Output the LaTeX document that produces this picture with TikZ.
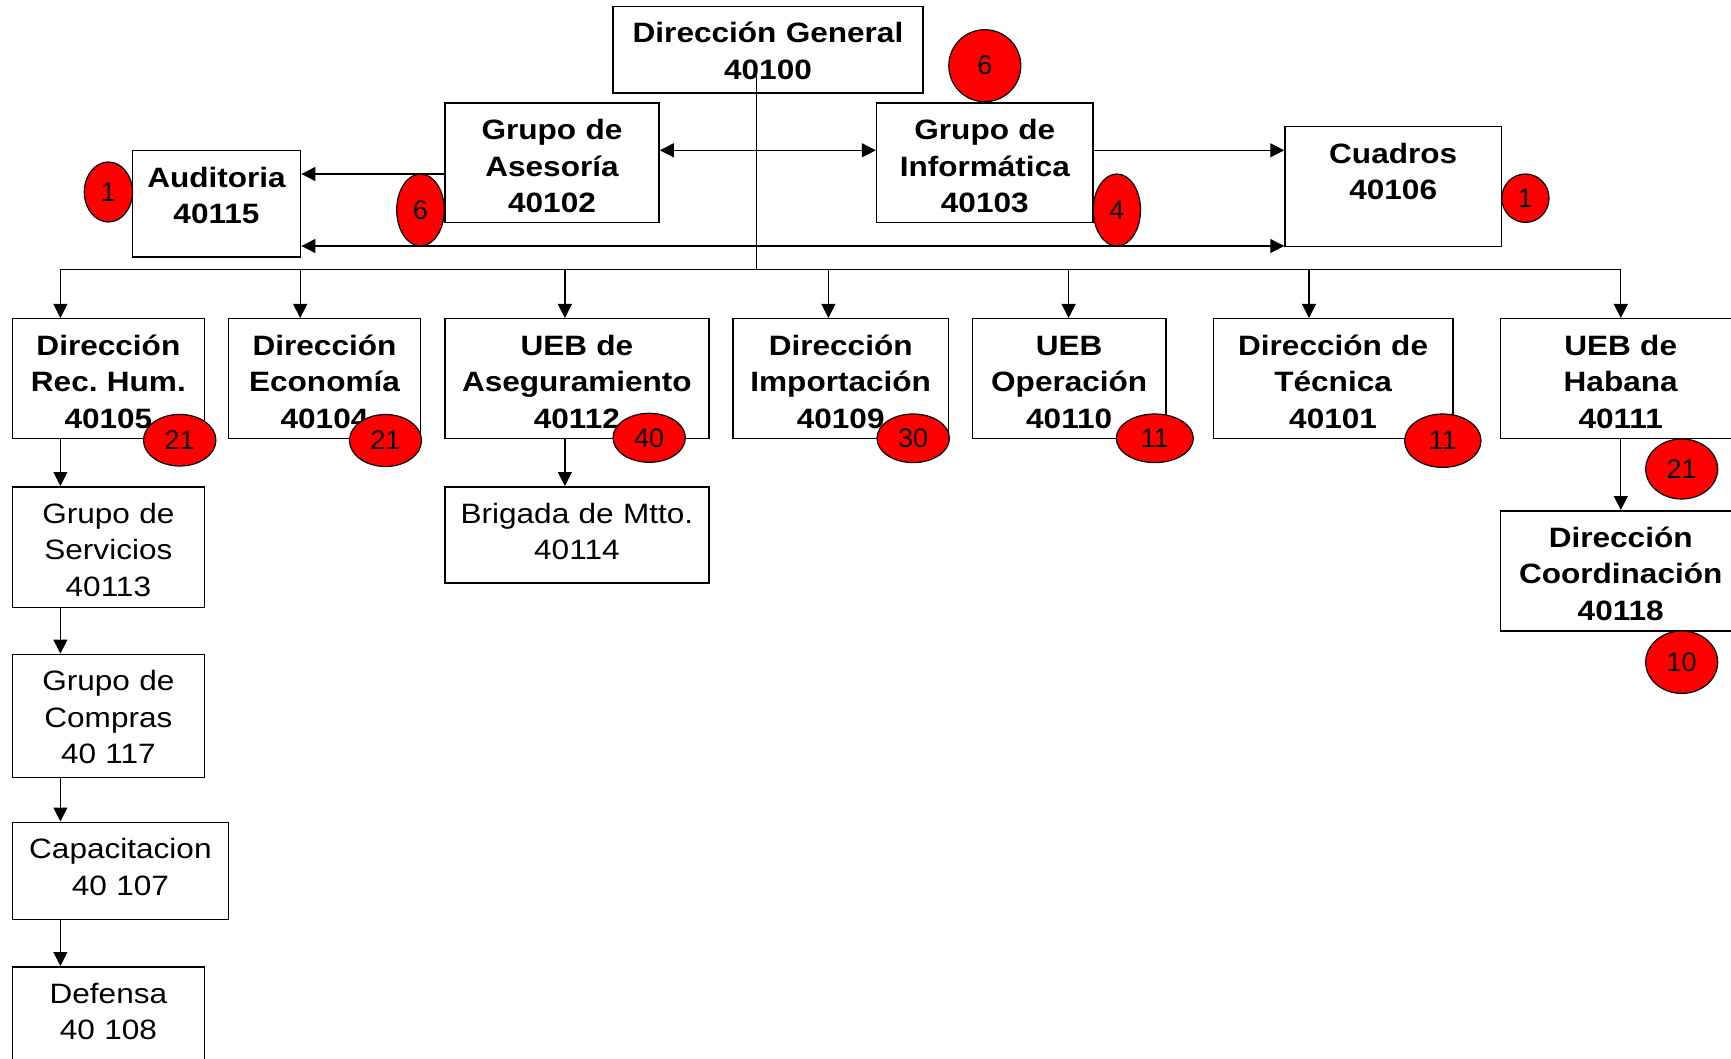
\documentclass[tikz,border=0pt]{standalone}
\usepackage{fontspec}
\setmainfont{Liberation Sans}[FakeStretch=1.127]
\newfontfamily\badgefont{Liberation Sans}
\usetikzlibrary{arrows.meta,shapes.geometric}
\frenchspacing

\begin{document}
\begin{tikzpicture}[x=.5pt,y=-.5pt,
  unit/.style={draw,line width=.75pt,anchor=north,inner sep=0pt,align=center,text height=18.25pt,font=\fontsize{14}{18.25}\selectfont\bfseries},
  plainunit/.style={unit,font=\fontsize{14}{18.25}\selectfont},
  badge/.style={ellipse,draw,fill=red,line width=.6pt,inner sep=0pt,font=\badgefont\fontsize{13.5}{14}\selectfont},
  conn/.style={line width=.6pt},
  arr/.style={conn,-{Triangle[length=7pt,width=7pt]}},
  twoway/.style={conn,{Triangle[length=7pt,width=7pt]}-{Triangle[length=7pt,width=7pt]}}]
\path[use as bounding box,clip] (0,0) rectangle (1731,1059);
% top level
\node[unit,text width=155pt,text depth=25.05pt] (dg) at (768,5.7) {Dirección General\\40100};
\node[unit,text width=107.1pt,text depth=41.5pt] (ase) at (552,102.5) {Grupo de\\Asesoría\\40102};
\node[unit,text width=108.2pt,text depth=41.5pt] (inf) at (984.8,102.5) {Grupo de\\Informática\\40103};
\node[unit,text width=108.2pt,text depth=41.75pt] (cua) at (1393.2,126) {Cuadros\\40106};
\node[unit,text width=84.2pt,text depth=34.9pt] (aud) at (216.5,150) {Auditoria\\40115};
% second row
\node[unit,text width=96.1pt,text depth=41.75pt] (rh) at (108.4,318) {Dirección\\Rec. Hum.\\40105};
\node[unit,text width=96pt,text depth=41.75pt] (eco) at (324.5,318) {Dirección\\Economía\\40104};
\node[unit,text width=132pt,text depth=41.75pt] (aseg) at (576.9,318) {UEB de\\Aseguramiento\\40112};
\node[unit,text width=107.65pt,text depth=41.75pt] (imp) at (840.7,318) {Dirección\\Importación\\40109};
\node[unit,text width=96.6pt,text depth=41.75pt] (ope) at (1069.2,318) {UEB\\Operación\\40110};
\node[unit,text width=119.8pt,text depth=41.75pt] (tec) at (1333.1,318) {Dirección de\\Técnica\\40101};
\node[unit,text width=120pt,text depth=41.75pt] (hab) at (1620.7,318) {UEB de\\Habana\\40111};
\node[unit,text width=120pt,text depth=41.75pt] (coord) at (1620.7,510) {Dirección\\Coordinación\\40118};
% lower groups
\node[plainunit,text width=96.1pt,text depth=42.05pt] (serv) at (108.4,486) {Grupo de\\Servicios\\40113};
\node[plainunit,text width=96.1pt,text depth=43.25pt] (comp) at (108.4,653.6) {Grupo de\\Compras\\40 117};
\node[plainunit,text width=108.1pt,text depth=30.25pt] (capa) at (120.4,821.5) {Capacitacion\\40 107};
\node[plainunit,text width=96.1pt,text depth=31.75pt] (def) at (108.4,966) {Defensa\\40 108};
\node[plainunit,text width=132pt,text depth=29.75pt] (brig) at (576.9,486) {Brigada de Mtto.\\40114};

\coordinate (rowA) at (0,150.3);
\coordinate (rowB) at (0,174);
\coordinate (rowC) at (0,246);
\coordinate (dgfoot) at (756.5,76);
\coordinate (busL) at (60.4,269.3);
\coordinate (busR) at (1620.8,269.3);

\draw[conn] (dgfoot) -- (dgfoot |- busL);
\draw[conn] (busL) -- (busR);
\foreach \x/\n in {60.4/rh,300.2/eco,564.9/aseg,828.4/imp,1068.6/ope,1309/tec,1620.8/hab}
  \draw[arr] (\x,269.3) coordinate (top\n) -- (top\n |- \n.north);
\draw[arr] (toprh |- rh.south) -- (toprh |- serv.north);
\draw[arr] (toprh |- serv.south) -- (toprh |- comp.north);
\draw[arr] (toprh |- comp.south) -- (toprh |- capa.north);
\draw[arr] (toprh |- capa.south) -- (toprh |- def.north);
\draw[arr] (topaseg |- aseg.south) -- (topaseg |- brig.north);
\draw[arr] (tophab |- hab.south) -- (tophab |- coord.north);
\draw[twoway] (ase.east |- rowA) -- (inf.west |- rowA);
\draw[arr] (inf.east |- rowA) -- (cua.west |- rowA);
\draw[arr] (ase.west |- rowB) -- (aud.east |- rowB);
\draw[twoway] (aud.east |- rowC) -- (cua.west |- rowC);

% staff counts
\node[badge,minimum width=36pt,minimum height=36pt] (ntop) at (984.8,65.7) {6};
\node[badge,minimum width=24.1pt,minimum height=30pt] (naud) at (108.4,192) {1};
\node[badge,minimum width=23.8pt,minimum height=36pt] (nase) at (420.5,210) {6};
\node[badge,minimum width=23.6pt,minimum height=36pt] (ninf) at (1116.9,210) {4};
\node[badge,minimum width=23.6pt,minimum height=24.2pt] (ncua) at (1525.4,198.2) {1};
\node[badge,minimum width=36.2pt,minimum height=25.8pt] (nrh) at (179.7,440.2) {21};
\node[badge,minimum width=36pt,minimum height=26pt] (neco) at (385.5,440.5) {21};
\node[badge,minimum width=36.2pt,minimum height=24.5pt] (naseg) at (649.2,437.8) {40};
\node[badge,minimum width=36.2pt,minimum height=24.3pt] (nimp) at (913.2,438.3) {30};
\node[badge,minimum width=38.5pt,minimum height=24.3pt] (nope) at (1154.8,438.3) {11};
\node[badge,minimum width=38.2pt,minimum height=26.7pt] (ntec) at (1442.8,440.7) {11};
\node[badge,minimum width=36pt,minimum height=30pt] (nhab) at (1681.7,469) {21};
\node[badge,minimum width=36pt,minimum height=31.2pt] (ncoord) at (1681.7,662.2) {10};
\end{tikzpicture}
\end{document}
